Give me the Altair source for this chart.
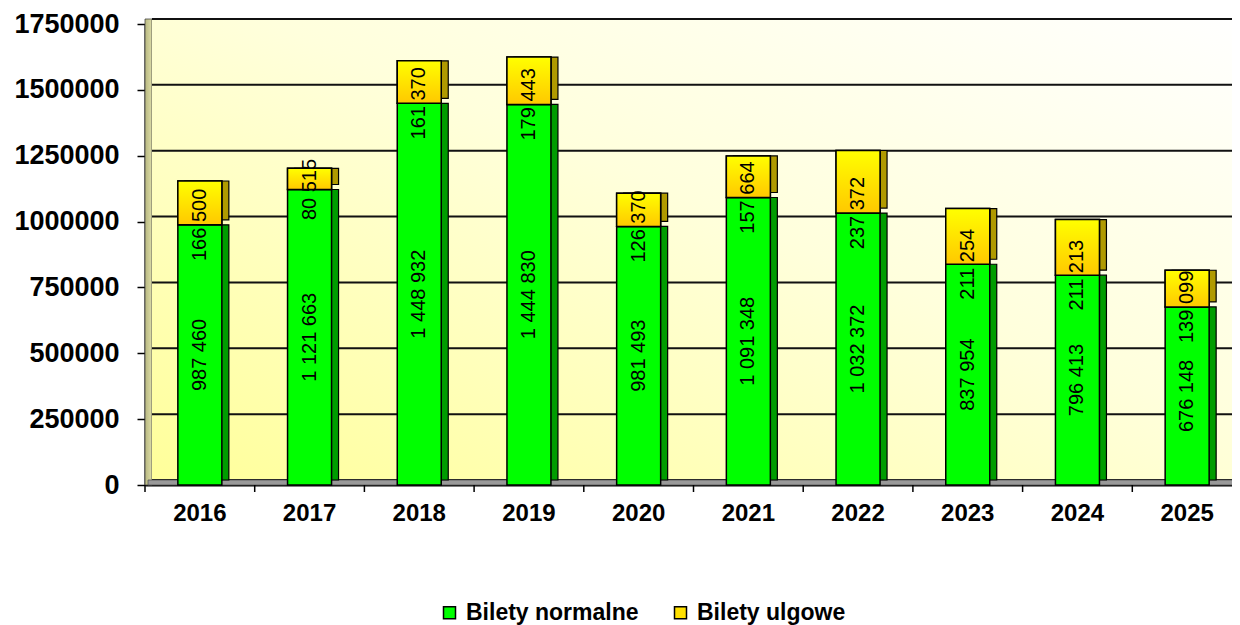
import altair as alt
import pandas as pd

years = ["2016", "2017", "2018", "2019", "2020", "2021", "2022", "2023", "2024", "2025"]
normalne = [987460, 1121663, 1448932, 1444830, 981493, 1091348, 1032372, 837954, 796413, 676148]
ulgowe = [166500, 80515, 161370, 179443, 126370, 157664, 237372, 211254, 211213, 139099]
y_ticks = [0, 250000, 500000, 750000, 1000000, 1250000, 1500000, 1750000]
series = ["Bilety normalne", "Bilety ulgowe"]

W, H = 1087, 461
FONT = "Liberation Sans"


def fmt(v):
    return f"{v:,}".replace(",", " ")


rows = []
for yr, n, u in zip(years, normalne, ulgowe):
    rows.append({"year": yr, "type": series[0], "y0": 0, "y1": n, "ly": n / 2, "label": fmt(n)})
    rows.append({"year": yr, "type": series[1], "y0": n, "y1": n + u, "ly": n, "label": fmt(u)})
df = pd.DataFrame(rows)
grid_df = pd.DataFrame({"y0": y_ticks})
year_df = pd.DataFrame({"year": years})
one = pd.DataFrame({"a": [0]})

xscale = alt.Scale(domain=years, range=[0, 1097], paddingInner=0, paddingOuter=0)
yscale = alt.Scale(domain=[0, 1750000], nice=False, zero=True)

x_axis = alt.Axis(title=None, ticks=False, domain=True, domainColor="black", domainWidth=2,
                  labelFont=FONT, labelFontSize=24, labelFontWeight="bold", labelColor="black",
                  labelPadding=16, labelAngle=0, grid=False)
y_axis = alt.Axis(title=None, values=y_ticks, format="d", grid=False, domain=True,
                  domainColor="black", domainWidth=2, ticks=True, tickColor="black",
                  tickWidth=1.5, tickSize=8, labelFont=FONT, labelFontSize=27,
                  labelFontWeight="bold", labelColor="black", labelPadding=18)

X = alt.X("year:N", scale=xscale, axis=x_axis)
Y = alt.Y("y0:Q", scale=yscale, axis=y_axis)

left_wall = alt.Chart(one).mark_rect(
    fill={"gradient": "linear", "x1": 0, "y1": 0, "x2": 1, "y2": 0,
          "stops": [{"offset": 0, "color": "#B8B880"}, {"offset": 1, "color": "#DCDCA8"}]},
    stroke="#444", strokeWidth=0.8,
).encode(x=alt.value(0), x2=alt.value(7), y=alt.value(-5), y2=alt.value(H))

back_wall = alt.Chart(one).mark_rect(
    fill={"gradient": "linear", "x1": 0, "y1": 1, "x2": 1, "y2": 0,
          "stops": [{"offset": 0, "color": "#FFFF9A"}, {"offset": 0.55, "color": "#FFFFDC"},
                    {"offset": 1, "color": "#FFFFFF"}]},
).encode(x=alt.value(7), x2=alt.value(W + 20), y=alt.value(-5), y2=alt.value(H - 5))

grid = alt.Chart(grid_df).mark_rule(color="#111", strokeWidth=2, yOffset=-5).encode(
    y=Y, x=alt.value(7), x2=alt.value(W + 20)
)

floor = alt.Chart(one).mark_rect(fill="#999999", stroke="#555", strokeWidth=0.8).encode(
    x=alt.value(3), x2=alt.value(W + 20), y=alt.value(H - 5), y2=alt.value(H)
)

green_side = alt.Chart(df).transform_filter(alt.datum.type == series[0]).mark_bar(
    width=44, xOffset=7, yOffset=-5, fill="#009C00", stroke="black", strokeWidth=1.2
).encode(x=X, y=Y, y2="y1:Q")

yellow_side = alt.Chart(df).transform_filter(alt.datum.type == series[1]).mark_bar(
    width=44, xOffset=7, yOffset=-5, fill="#B09A00", stroke="black", strokeWidth=1.2
).encode(x=X, y=Y, y2="y1:Q")

front = alt.Chart(df).mark_bar(width=44, stroke="black", strokeWidth=1.5, opacity=1).encode(
    x=X, y=Y, y2="y1:Q",
    color=alt.Color("type:N", scale=alt.Scale(domain=series, range=["#00FF00", "#FFE000"]),
                    legend=alt.Legend(orient="none", legendX=293, legendY=577, direction="horizontal",
                                      title=None, symbolType="square", symbolSize=144,
                                      symbolStrokeColor="black", symbolStrokeWidth=1.5,
                                      labelFont=FONT, labelFontSize=23, labelFontWeight="bold",
                                      labelColor="black", columnPadding=30, labelOffset=5,
                                      labelLimit=400, padding=0)),
)

yellow_front = alt.Chart(df).transform_filter(alt.datum.type == series[1]).mark_bar(
    width=44, stroke="black", strokeWidth=1.5,
    fill={"gradient": "linear", "x1": 0, "y1": 0, "x2": 0, "y2": 1,
          "stops": [{"offset": 0, "color": "#FFFF00"}, {"offset": 1, "color": "#FFC800"}]},
).encode(x=X, y=Y, y2="y1:Q")

ticks = alt.Chart(year_df).mark_rule(color="black", strokeWidth=1.5).encode(
    x=alt.X("year:N", scale=xscale, axis=x_axis, bandPosition=0), y=alt.value(H), y2=alt.value(H + 7)
)

labels = alt.Chart(df).mark_text(angle=270, font=FONT, fontSize=20, color="black",
                                 align="center", baseline="middle").encode(
    x=X, y=alt.Y("ly:Q", scale=yscale, axis=y_axis), text="label:N"
)

chart = alt.layer(
    left_wall, back_wall, grid, floor, green_side, yellow_side, front, yellow_front, ticks, labels
).properties(
    width=W, height=H,
    padding={"left": 137, "top": 16, "right": 0, "bottom": 140},
    autosize=alt.AutoSizeParams(type="none"),
).configure_view(stroke=None).configure(background="white")

chart.save("out.html", embed_options={"renderer": "svg", "actions": False})
